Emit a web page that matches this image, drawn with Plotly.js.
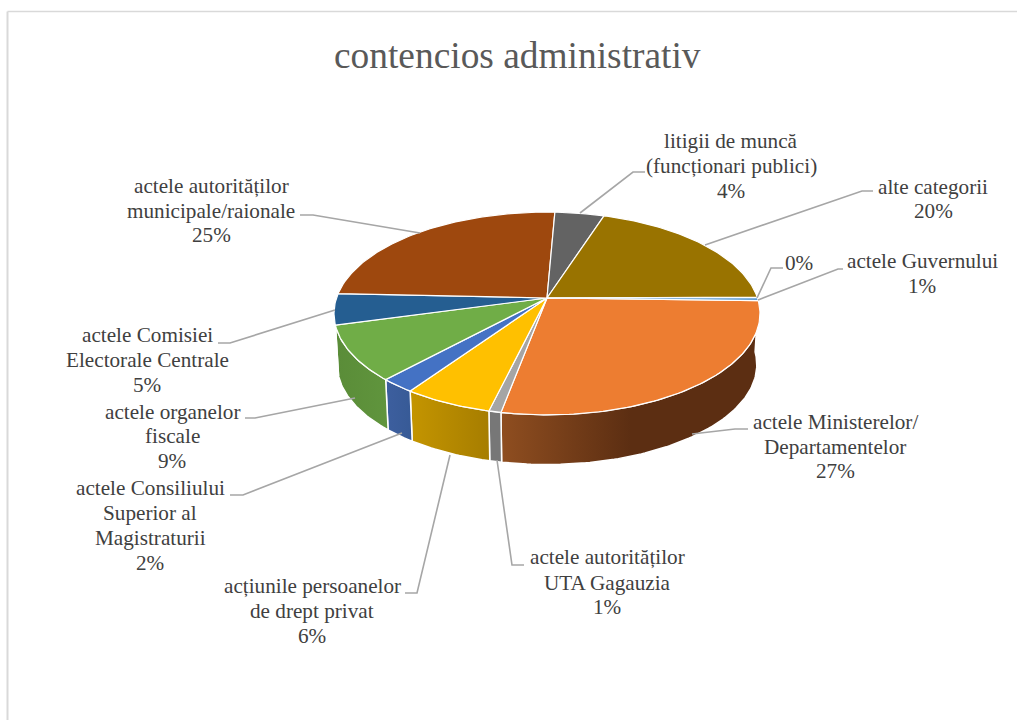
<!DOCTYPE html>
<html><head><meta charset="utf-8">
<script src="https://cdn.plot.ly/plotly-3.0.1.min.js"></script>
<style>html,body{margin:0;padding:0;background:#fff}#c{width:1017px;height:720px}</style></head>
<body><div id="c"></div>
<script>
const chartTitle = "contencios administrativ";
const categories = ["actele Ministerelor/ Departamentelor","actele autorităților UTA Gagauzia","acțiunile persoanelor de drept privat","actele Consiliului Superior al Magistraturii","actele organelor fiscale","actele Comisiei Electorale Centrale","actele autorităților municipale/raionale","litigii de muncă (funcționari publici)","alte categorii","0%","actele Guvernului"];
const values = [27.56, 0.8, 5.85, 2.29, 8.86, 4.94, 24.97, 4.33, 19.85, 0.05, 0.5];
const topColors = ["#ed7d31","#a5a5a5","#ffc000","#4472c4","#70ad47","#255e91","#9e480e","#636363","#997300","#264478","#5e9cd3"];
const wallColors = [["#8f4e20","#5c2e12",0.5],["#777777","#777777",1],["#c49500","#a67d00",1],["#3d5f9f","#375a96",1],["#5a8c38","#60953d",1],["#1c466d","#1c466d",1],["#763608","#763608",1],["#4a4a4a","#4a4a4a",1],["#735600","#735600",1],["#1c3359","#1c3359",1],["#4675a0","#4675a0",1]];
const labelLines = [
 {t:["actele Ministerelor/","Departamentelor","27%"],x:835,y:[422,447,471]},
 {t:["actele autorităților","UTA Gagauzia","1%"],x:607,y:[557,583,607]},
 {t:["acțiunile persoanelor","de drept privat","6%"],x:312,y:[586,611,636]},
 {t:["actele Consiliului","Superior al","Magistraturii","2%"],x:150,y:[488,513,538,563]},
 {t:["actele organelor","fiscale","9%"],x:172,y:[412,436,461]},
 {t:["actele Comisiei","Electorale Centrale","5%"],x:147,y:[335,360,385]},
 {t:["actele autorităților","municipale/raionale","25%"],x:211,y:[186,211,235]},
 {t:["litigii de muncă","(funcționari publici)","4%"],x:731,y:[141,166,191]},
 {t:["alte categorii","20%"],x:933,y:[187,211]},
 {t:["0%"],x:799,y:[263]},
 {t:["actele Guvernului","1%"],x:922,y:[261,286]}
];
const leaders = [
 [[692,735,748],[434,429,429]],[[497,512,524],[460,565,565]],[[450,417,405],[455,593,593]],
 [[402,243,230],[433,495,495]],[[355,255,245],[398,418,418]],[[335,230,218],[310,343,343]],
 [[420,313,300],[233,215,215]],[[580,633,645],[213,172,172]],[[705,862,873],[245,191,191]],
 [[757,771,783],[298,268,268]],[[758,838,843],[300,269,269]]
];

const cx=547, cy=298, R=210.5, H=99, p=0.1525, depth=51.5, shrink=0.985, start=-1.5*Math.PI/180;
const wallLimit=-165*Math.PI/180;
const total = values.reduce((a,b)=>a+b,0);
function pt(th,dz,s){const d=1+p*Math.sin(th);return [cx+s*R*Math.cos(th)/d, cy+dz-s*H*Math.sin(th)/d];}
const traces=[];
let cum=0; const spans=values.map(v=>{const a=start-2*Math.PI*cum/total;cum+=v;return [a,start-2*Math.PI*cum/total];});
function arc(a,b,dz,s){const n=Math.max(2,Math.ceil(Math.abs(a-b)/(Math.PI/180)));const o=[];for(let i=0;i<=n;i++)o.push(pt(a+(b-a)*i/n,dz,s));return o;}
spans.forEach((sp,i)=>{
  const a=Math.min(sp[0],0), b=Math.max(sp[1],wallLimit);
  if(a<=b) return;
  const poly=arc(a,b,0,1).concat(arc(b,a,depth,shrink));poly.push(poly[0]);
  traces.push({type:"scatter",mode:"lines",x:poly.map(q=>q[0]),y:poly.map(q=>q[1]),fill:"toself",
    fillgradient:{type:"horizontal",colorscale:[[0,wallColors[i][0]],[wallColors[i][2],wallColors[i][1]],[1,wallColors[i][1]]]},
    line:{color:"#ffffff",width:1.5},hoverinfo:"skip",showlegend:false});
});
spans.forEach((sp,i)=>{
  const poly=[[cx,cy]].concat(arc(sp[0],sp[1],0,1));poly.push([cx,cy]);
  traces.push({type:"scatter",mode:"lines",name:categories[i],x:poly.map(q=>q[0]),y:poly.map(q=>q[1]),fill:"toself",
    fillcolor:topColors[i],line:{color:"#ffffff",width:1.2},hoverinfo:"name",showlegend:false});
});
leaders.forEach(l=>traces.push({type:"scatter",mode:"lines",x:l[0],y:l[1],line:{color:"#a6a6a6",width:1.6},hoverinfo:"skip",showlegend:false}));
const annotations=[];
labelLines.forEach(l=>l.t.forEach((s,k)=>annotations.push({x:l.x,y:l.y[k],xref:"x",yref:"y",text:s,showarrow:false,xanchor:"center",yanchor:"middle",
  font:{family:"Liberation Serif, serif",size:21.2,color:"#404040"}})));
annotations.push({x:517,y:55,xref:"x",yref:"y",text:chartTitle,showarrow:false,xanchor:"center",yanchor:"middle",font:{family:"Liberation Serif, serif",size:37.4,color:"#595959"}});
const layout={width:1017,height:720,margin:{l:0,r:0,t:0,b:0},paper_bgcolor:"#ffffff",plot_bgcolor:"#ffffff",showlegend:false,
 xaxis:{range:[0,1017],visible:false,fixedrange:true},yaxis:{range:[720,0],visible:false,fixedrange:true},annotations:annotations,
 shapes:[{type:"line",xref:"x",yref:"y",x0:7.5,x1:7.5,y0:11.5,y1:720,line:{color:"#d9d9d9",width:2}},
         {type:"line",xref:"x",yref:"y",x0:7.5,x1:1017,y0:11.5,y1:11.5,line:{color:"#d9d9d9",width:1.5}}]};
Plotly.newPlot("c",traces,layout,{displayModeBar:false,staticPlot:true});
</script></body></html>
